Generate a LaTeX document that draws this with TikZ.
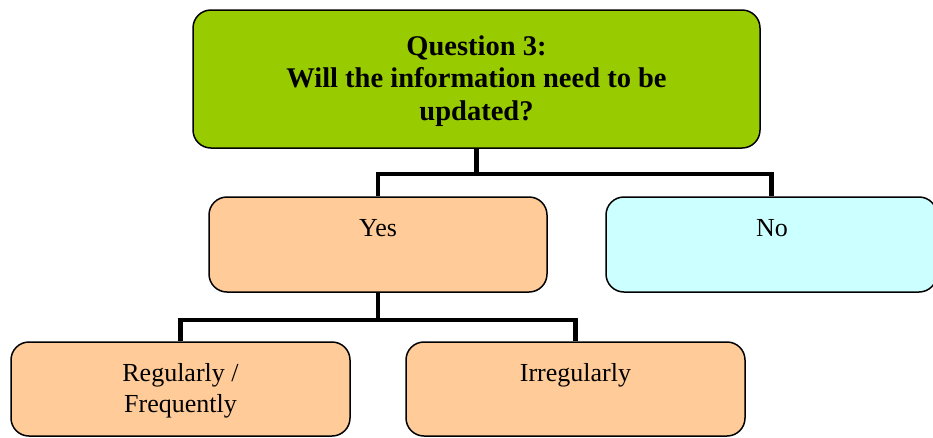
\documentclass[tikz,border=0pt]{standalone}
\usepackage{fontspec}
\setmainfont{Liberation Serif}
\definecolor{qgreen}{HTML}{99CC00}
\definecolor{orangebox}{HTML}{FFCC99}
\definecolor{cyanbox}{HTML}{CCFFFF}
\begin{document}
\begin{tikzpicture}[x=1pt,y=-1pt,
  box/.style={draw=black, line width=1.5pt, rounded corners=18pt, inner sep=0pt},
  conn/.style={draw=black, line width=4.5pt},
  lbl/.style={font=\fontsize{26}{31}\selectfont, align=center, inner sep=0pt, anchor=north},
  ]
\useasboundingbox (0,0) rectangle (933,437);
% boxes
\node[box, fill=qgreen, minimum width=567pt, minimum height=138pt] (q) at (476.5,79) {};
\node[font=\bfseries\fontsize{28.5}{32.5}\selectfont, align=center, inner sep=0pt] (qt) at (476.5,81) {Question 3:\\Will the information need to be\\updated?};
\node[box, fill=orangebox, minimum width=338pt, minimum height=95pt] (yes) at (378,244.5) {};
\node[lbl] (yest) at (378,219) {Yes};
\node[box, fill=cyanbox, minimum width=331pt, minimum height=95pt] (no) at (771.5,244.5) {};
\node[lbl] (not) at (772,219) {No};
\node[box, fill=orangebox, minimum width=339pt, minimum height=94pt] (reg) at (180.5,389) {};
\node[lbl] (regt) at (180.5,363) {Regularly /\\Frequently};
\node[box, fill=orangebox, minimum width=339pt, minimum height=94pt] (irr) at (575.5,389) {};
\node[lbl] (irrt) at (575.5,363) {Irregularly};
% connectors
\coordinate (j1) at (476.5,174);
\coordinate (j2) at (378,320);
\draw[conn] (q.south) -- (j1);
\draw[conn] (j1) -| (yes.north);
\draw[conn] (j1) -| (no.north);
\draw[conn] (yes.south) -- (j2);
\draw[conn] (j2) -| (reg.north);
\draw[conn] (j2) -| (irr.north);
\end{tikzpicture}
\end{document}
